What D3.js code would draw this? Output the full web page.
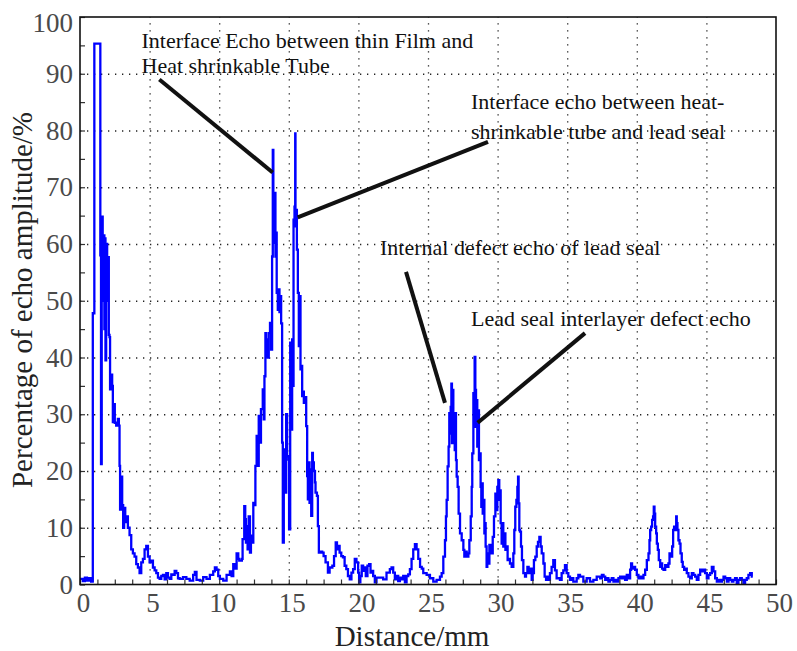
<!DOCTYPE html>
<html>
<head>
<meta charset="utf-8">
<script src="https://cdn.jsdelivr.net/npm/d3@7"></script>
<style>
  body { margin: 0; background: #fff; }
  svg text { font-family: 'Liberation Serif', 'Times New Roman', Times, serif !important; }
</style>
</head>
<body>
<div id="chart"></div>
<script>
// axis ticks
const xTickValues = [0, 5, 10, 15, 20, 25, 30, 35, 40, 45, 50]
const yTickValues = [0, 10, 20, 30, 40, 50, 60, 70, 80, 90, 100]

// echo trace, [distance mm, amplitude %]
const traceNearField = [
  [0, 1.0], [0.2, 0.6], [0.35, 1.2], [0.5, 0.7], [0.65, 1.1], [0.8, 0.5], [0.91, 0.6],
  [0.92, 47.8], [1.03, 95.3], [1.44, 95.3], [1.46, 58], [1.51, 21.2], [1.56, 64.8],
  [1.63, 50], [1.68, 61.5], [1.75, 45], [1.8, 61], [1.83, 39.5], [1.88, 60], [1.95, 50],
  [2.0, 57.7], [2.07, 44], [2.12, 43.6], [2.16, 34.4], [2.24, 37], [2.31, 35], [2.36, 28.6],
  [2.43, 31.8], [2.5, 28.5], [2.6, 28], [2.72, 29.2], [2.79, 28], [2.84, 20.9], [2.88, 13.2],
  [2.96, 19], [3.03, 14], [3.1, 10], [3.17, 13.5], [3.25, 11], [3.32, 12], [3.44, 10],
  [3.56, 8.7], [3.68, 6.2], [3.8, 5.5], [3.92, 4.9], [4.04, 3.6], [4.16, 3], [4.28, 2],
  [4.4, 3.9], [4.52, 4.5], [4.64, 6.2], [4.76, 6.8], [4.88, 4.9], [5.0, 3.9], [5.12, 4.2],
  [5.24, 3], [5.36, 2.5], [5.48, 2], [5.6, 1.2], [5.72, 1], [5.84, 1.5], [5.96, 1.7],
  [6.08, 0.9], [6.2, 2], [6.32, 1.2], [6.44, 1], [6.56, 1.8], [6.68, 1.7], [6.8, 2.4],
  [6.92, 2], [7.04, 1.1], [7.16, 1], [7.4, 1.3], [7.64, 1], [7.88, 0.7], [8.13, 1.7],
  [8.25, 2.2], [8.37, 0.8], [8.61, 0.7], [8.85, 1.3], [9.09, 1], [9.33, 1.7], [9.57, 2.3],
  [9.69, 3], [9.81, 2.6], [9.93, 1.5], [10.05, 1], [10.29, 0.7], [10.53, 1.7], [10.77, 2.3],
  [10.89, 1.5], [11.01, 3.6], [11.13, 2.8], [11.25, 5.5], [11.37, 4.5]
]

const traceTubeEchoes = [
  [11.44, 4.2], [11.56, 4.2], [11.63, 4.5], [11.68, 8], [11.8, 13.8], [11.87, 11.5],
  [11.92, 7.4], [11.97, 10.3], [12.04, 6.2], [12.12, 12], [12.21, 5.6], [12.28, 8.6],
  [12.36, 7.4], [12.45, 14.4], [12.52, 14], [12.6, 20.9], [12.69, 26.2], [12.76, 20.9],
  [12.84, 29.7], [12.93, 25], [13.0, 30.9], [13.13, 34.4], [13.2, 29.1], [13.25, 36.7],
  [13.32, 44.3], [13.37, 40.2], [13.41, 43.2], [13.49, 40], [13.56, 44.3], [13.65, 46.1],
  [13.73, 41.4], [13.8, 57.8], [13.85, 76.6], [13.89, 60.2], [13.96, 69], [14.04, 57.8],
  [14.09, 62], [14.13, 51.4], [14.21, 48.4], [14.28, 52], [14.33, 48], [14.38, 50.8],
  [14.45, 46], [14.52, 25], [14.57, 7.4], [14.64, 23.8], [14.71, 16.2], [14.81, 30],
  [14.88, 22.6], [14.98, 22], [15.02, 9.7], [15.1, 42.6], [15.17, 27.3], [15.24, 43.2],
  [15.29, 35], [15.34, 64.3], [15.41, 66.6], [15.46, 79.5], [15.48, 63.1], [15.53, 66],
  [15.58, 59], [15.65, 51.4], [15.72, 42], [15.77, 50.8], [15.84, 37.9], [15.89, 38.5],
  [15.96, 33.2], [16.01, 34], [16.08, 32], [16.15, 33], [16.25, 27.9], [16.32, 19.1],
  [16.37, 15], [16.44, 21.5], [16.49, 14.4], [16.56, 20.3], [16.61, 12.1], [16.68, 23.2],
  [16.73, 21.5], [16.8, 20], [16.88, 18], [16.92, 16.2], [17.02, 15.6], [17.09, 10.3],
  [17.16, 5.6], [17.26, 5.8], [17.4, 5.6], [17.5, 5], [17.64, 3.9], [17.81, 2.1],
  [17.93, 3], [18.13, 3.3], [18.25, 5], [18.37, 7.4], [18.46, 6.2], [18.56, 6.8],
  [18.65, 5.6], [18.77, 5], [18.89, 4.8], [19.01, 3.3], [19.13, 2.7], [19.25, 1.5],
  [19.38, 0.9], [19.5, 2.1], [19.62, 2.7], [19.74, 4.5], [19.86, 3.9], [19.98, 2.1],
  [20.05, 0.4], [20.14, 1.5], [20.24, 3.3], [20.34, 2.4], [20.46, 3], [20.53, 1.5],
  [20.65, 3.3], [20.77, 3.6], [20.87, 2.1], [20.96, 2.4], [21.06, 1.5], [21.18, 0.4],
  [21.3, 1.2], [21.54, 1.2], [21.78, 0.9], [22.02, 2.1], [22.26, 2.7], [22.38, 3],
  [22.5, 2.1], [22.62, 0.9], [22.74, 1.5], [22.86, 0.6], [22.98, 1.2], [23.1, 0.9],
  [23.22, 1.5], [23.34, 0.4], [23.46, 1.5], [23.58, 1.8], [23.7, 2.7], [23.82, 4.5],
  [23.94, 6.2], [24.06, 7.1], [24.18, 6.2], [24.3, 4.5]
]

const traceSealEchoes = [
  [24.43, 3.1], [24.55, 2.8], [24.66, 2], [24.9, 1.7], [25.14, 1.1], [25.38, 0.5],
  [25.62, 0.8], [25.86, 1.4], [25.98, 2], [26.1, 4.9], [26.22, 7.8], [26.29, 12],
  [26.34, 14.9], [26.41, 20.8], [26.48, 24.3], [26.53, 30.2], [26.58, 26.6], [26.63, 31.3],
  [26.68, 35.4], [26.72, 24.9], [26.77, 34.3], [26.82, 28.4], [26.87, 29.6], [26.92, 23.7],
  [26.96, 30.2], [27.01, 21.9], [27.06, 19], [27.13, 17.2], [27.2, 12.5], [27.3, 9],
  [27.42, 7.8], [27.54, 6.1], [27.61, 4.9], [27.71, 5.8], [27.78, 4.9], [27.9, 5.5],
  [27.97, 7.8], [28.07, 12], [28.14, 17.2], [28.18, 23.1], [28.26, 33.7], [28.3, 27.8],
  [28.35, 40.1], [28.4, 34.3], [28.45, 27.8], [28.5, 32.5], [28.54, 24.3], [28.62, 30.7],
  [28.66, 21.9], [28.74, 23.1], [28.78, 17.2], [28.83, 13.7], [28.88, 17.8], [28.93, 12.5],
  [28.98, 14.9], [29.05, 9], [29.09, 10.8], [29.14, 6.7], [29.21, 3.1], [29.26, 5.5],
  [29.33, 3.7], [29.41, 7], [29.5, 6.1], [29.57, 5.5], [29.65, 8.4], [29.74, 12],
  [29.84, 16], [29.91, 13.1], [29.98, 17.2], [30.05, 18.4], [30.12, 14.9], [30.17, 16.6],
  [30.22, 10.8], [30.29, 7.2], [30.36, 10.8], [30.41, 6.7], [30.48, 9], [30.56, 6.1],
  [30.65, 6.7], [30.72, 4.3], [30.8, 4.5], [30.89, 3.7], [31.01, 3.1], [31.13, 5.5],
  [31.2, 9.6], [31.27, 13.7], [31.35, 14.9], [31.42, 17.2], [31.47, 19], [31.51, 14.3],
  [31.56, 9.6], [31.61, 9.3], [31.68, 6.7], [31.75, 4.3], [31.85, 2], [31.97, 1.4],
  [32.04, 2], [32.14, 3.1], [32.23, 2], [32.33, 2.8], [32.45, 0.8], [32.52, 2],
  [32.61, 4.3], [32.71, 4.9], [32.81, 6.7], [32.9, 7.5], [33.0, 8.4], [33.09, 6.7],
  [33.17, 5.5], [33.29, 3.7], [33.38, 1.4], [33.48, 0.8], [33.57, 1.4], [33.67, 0.8],
  [33.76, 2], [33.88, 3.1], [34.0, 4.3], [34.12, 2.5], [34.24, 1.1], [34.36, 1.1],
  [34.48, 0.8], [34.6, 2], [34.72, 2.5], [34.84, 3.4], [34.96, 2], [35.08, 1.4],
  [35.2, 0.8], [35.32, 1.1], [35.44, 0.5], [35.68, 1.1], [35.8, 1.7], [35.92, 1.4],
  [36.16, 0.5], [36.4, 1.1], [36.64, 0.5], [36.88, 0.8], [37.12, 1.4]
]

const traceTail = [
  [37.37, 1.1], [37.49, 1.7], [37.61, 1.4], [37.73, 0.8], [37.84, 1.1], [37.96, 0.5],
  [38.08, 0.8], [38.2, 1.1], [38.32, 0.5], [38.44, 0.8], [38.56, 0.5], [38.68, 1.1],
  [38.8, 1.4], [38.92, 1.1], [39.04, 1.4], [39.16, 0.8], [39.28, 1.7], [39.4, 1.1],
  [39.52, 2.6], [39.59, 3.7], [39.66, 2.8], [39.76, 3.1], [39.88, 2.6], [40.0, 1.7],
  [40.12, 1.1], [40.24, 1.4], [40.36, 1.1], [40.48, 1.7], [40.6, 2.6], [40.72, 4.3],
  [40.84, 5.5], [40.91, 7.8], [40.96, 9.6], [41.03, 10.2], [41.1, 11.4], [41.17, 12],
  [41.22, 13.7], [41.27, 12.5], [41.32, 10.2], [41.39, 9], [41.44, 7.2], [41.51, 6.1],
  [41.58, 4.3], [41.68, 3.1], [41.75, 3.7], [41.82, 2.8], [41.92, 2.6], [42.04, 3.4],
  [42.16, 3.1], [42.27, 3.7], [42.35, 5.5], [42.44, 4.9], [42.54, 6.7], [42.61, 9.6],
  [42.68, 10.2], [42.75, 9.6], [42.83, 12], [42.87, 10.8], [42.92, 9.6], [42.99, 7.8],
  [43.07, 7.2], [43.14, 5.5], [43.23, 4], [43.3, 3.1], [43.4, 2.6], [43.5, 2.8],
  [43.59, 2], [43.71, 1.4], [43.83, 1.1], [43.95, 2], [44.07, 1.7], [44.19, 1.4],
  [44.31, 0.8], [44.43, 1.7], [44.55, 2.6], [44.67, 2.3], [44.79, 2.6], [44.91, 2],
  [45.03, 1.1], [45.15, 1.7], [45.27, 2], [45.39, 3.1], [45.51, 2.3], [45.63, 1.1],
  [45.75, 0.5], [45.87, 0.8], [45.99, 0.5], [46.11, 0.8], [46.23, 1.4], [46.35, 1.1],
  [46.47, 0.5], [46.59, 1.1], [46.71, 0.8], [46.83, 0.5], [46.94, 0.8], [47.06, 1.1],
  [47.18, 0.2], [47.3, 0.8], [47.42, 1.1], [47.54, 0.8], [47.66, 0.2], [47.78, 0.8],
  [47.9, 1.1], [48.02, 1.7], [48.14, 2], [48.26, 1.4], [48.33, 1.4]
]

// callouts, in data units
const annotations = [
  { lines: ['Interface Echo between thin Film and', 'Heat shrinkable Tube'], x: 4.42, y: [94.5, 90.1], from: [5.7, 89.0], to: [13.84, 72.6] },
  { lines: ['Interface echo between heat-', 'shrinkable tube and lead seal'], x: 28.09, y: [83.8, 78.5], from: [29.31, 78.0], to: [15.64, 64.7] },
  { lines: ['Internal defect echo of lead seal'], x: 21.55, y: [58.1], from: [23.42, 55.1], to: [26.22, 32.0] },
  { lines: ['Lead seal interlayer defect echo'], x: 28.09, y: [45.6], from: [36.28, 44.3], to: [28.57, 28.5] }
]

function graph(id) {
  const W = 797
  const H = 651
  const margin = { top: 17, right: 21, bottom: 66.5, left: 80 }
  const width = W - margin.left - margin.right
  const height = H - margin.top - margin.bottom
  const serif = "'Liberation Serif', 'Times New Roman', Times, serif"

  const trace = traceNearField.concat(traceTubeEchoes, traceSealEchoes, traceTail)

  const xScale = d3.scaleLinear().domain([0, 50]).range([0, width])
  const yScale = d3.scaleLinear().domain([0, 100]).range([height, 0])

  const svg = d3
    .select(id)
    .append('svg')
    .attr('width', W)
    .attr('height', H)
    .attr('font-family', serif)

  const g = svg.append('g').attr('transform', `translate(${margin.left},${margin.top})`)

  // dotted grid
  g.append('g')
    .attr('class', 'grid')
    .attr('transform', `translate(0,${height})`)
    .call(d3.axisBottom(xScale).tickValues(xTickValues.slice(1, -1)).tickSize(-height).tickFormat(''))
  g.append('g')
    .attr('class', 'grid')
    .call(d3.axisLeft(yScale).tickValues(yTickValues.slice(1, -1)).tickSize(-width).tickFormat(''))
  g.selectAll('.grid .domain').remove()
  g.selectAll('.grid line')
    .attr('stroke', '#222')
    .attr('stroke-width', 1.3)
    .attr('stroke-dasharray', '1.3,5.7')

  // echo trace
  const makeLine = d3
    .line()
    .curve(d3.curveStepAfter)
    .x((d) => xScale(d[0]))
    .y((d) => yScale(d[1]))

  g.append('path')
    .datum(trace)
    .attr('fill', 'none')
    .attr('stroke', '#0000ff')
    .attr('stroke-width', 2.3)
    .attr('stroke-linejoin', 'miter')
    .attr('d', makeLine)

  // callout lines and text
  annotations.forEach((a) => {
    g.append('line')
      .attr('x1', xScale(a.from[0]))
      .attr('y1', yScale(a.from[1]))
      .attr('x2', xScale(a.to[0]))
      .attr('y2', yScale(a.to[1]))
      .attr('stroke', '#111')
      .attr('stroke-width', 4)
    a.lines.forEach((t, i) => {
      g.append('text')
        .attr('x', xScale(a.x))
        .attr('y', yScale(a.y[i]))
        .attr('fill', '#111')
        .attr('font-size', 22)
        .text(t)
    })
  })

  // minor ticks, pointing in
  g.append('g')
    .attr('class', 'minor')
    .attr('transform', `translate(0,${height})`)
    .call(d3.axisBottom(xScale).tickValues(d3.range(0, 50.01, 1.25)).tickSize(-5).tickFormat(''))
  g.append('g')
    .attr('class', 'minor')
    .call(d3.axisLeft(yScale).tickValues(d3.range(0, 100.01, 5)).tickSize(-5).tickFormat(''))
  g.selectAll('.minor .domain').remove()
  g.selectAll('.minor line').attr('stroke', '#333').attr('stroke-width', 1.2)

  // frame
  g.append('rect')
    .attr('width', width)
    .attr('height', height)
    .attr('fill', 'none')
    .attr('stroke', '#111')
    .attr('stroke-width', 1.6)

  // tick labels
  const xAxis = g.append('g')
    .attr('transform', `translate(0,${height})`)
    .call(d3.axisBottom(xScale).tickValues(xTickValues).tickSize(0).tickPadding(8))
  const yAxis = g.append('g')
    .call(d3.axisLeft(yScale).tickValues(yTickValues).tickSize(0).tickPadding(7))
  svg.selectAll('g').attr('font-family', null).attr('font-size', null)
  xAxis.select('.domain').remove()
  yAxis.select('.domain').remove()
  xAxis.selectAll('text').attr('dx', 3)
  yAxis.selectAll('text').filter((d) => d === 100).attr('dy', '0.55em')
  svg.selectAll('.tick text')
    .attr('fill', '#4a4a4a')
    .attr('font-size', 27)

  // axis titles
  svg.append('text')
    .attr('x', 412)
    .attr('y', 646)
    .attr('text-anchor', 'middle')
    .attr('fill', '#222')
    .attr('font-size', 29)
    .text('Distance/mm')

  svg.append('text')
    .attr('transform', 'translate(32,300) rotate(-90)')
    .attr('text-anchor', 'middle')
    .attr('fill', '#222')
    .attr('font-size', 29)
    .text('Percentage of echo amplitude/%')
}

graph('#chart')
</script>
</body>
</html>
